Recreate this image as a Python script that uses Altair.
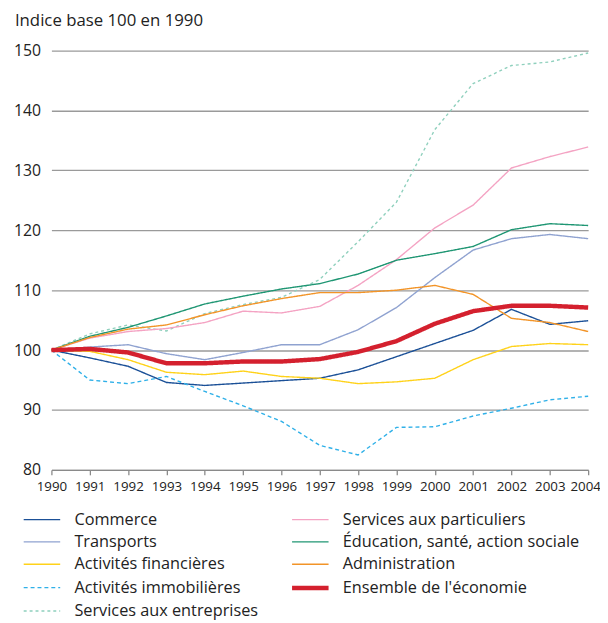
import altair as alt
import pandas as pd

years = list(range(1990, 2005))
commerce = [100, 98.7, 97.3, 94.6, 94.1, 94.5, 94.9, 95.3, 96.7, 98.9, 101.1, 103.3, 106.8, 104.3, 104.9]
transports = [100, 100.5, 100.9, 99.4, 98.4, 99.6, 100.9, 100.9, 103.4, 107.1, 112.1, 116.7, 118.6, 119.3, 118.6]
act_fin = [100, 99.8, 98.4, 96.3, 95.9, 96.5, 95.6, 95.3, 94.4, 94.7, 95.3, 98.4, 100.6, 101.1, 100.9]
act_immo = [100, 95.0, 94.4, 95.6, 93.1, 90.7, 88.1, 84.1, 82.5, 87.1, 87.2, 89.0, 90.3, 91.7, 92.3]
serv_ent = [100, 102.7, 104.2, 103.2, 106.1, 107.6, 108.8, 111.8, 118.1, 124.7, 136.8, 144.5, 147.5, 148.1, 149.6]
serv_part = [100, 102.0, 103.1, 103.6, 104.6, 106.5, 106.2, 107.3, 110.8, 115.1, 120.4, 124.2, 130.4, 132.3, 133.9]
education = [100, 102.3, 103.8, 105.7, 107.7, 109.0, 110.2, 111.1, 112.7, 115.0, 116.1, 117.3, 120.1, 121.1, 120.8]
administration = [100, 102.1, 103.5, 104.2, 105.9, 107.4, 108.6, 109.6, 109.6, 110.0, 110.8, 109.3, 105.3, 104.6, 103.1]
ensemble = [100, 100.2, 99.6, 97.8, 97.8, 98.1, 98.1, 98.5, 99.7, 101.5, 104.4, 106.5, 107.4, 107.4, 107.1]

series = {
    "Commerce": commerce,
    "Transports": transports,
    "Activités financières": act_fin,
    "Activités immobilières": act_immo,
    "Services aux entreprises": serv_ent,
    "Services aux particuliers": serv_part,
    "Éducation, santé, action sociale": education,
    "Administration": administration,
    "Ensemble de l'économie": ensemble,
}
order = list(series.keys())

colors = {
    "Commerce": "#1b5097",
    "Transports": "#8fa2d0",
    "Activités financières": "#ffd21a",
    "Activités immobilières": "#2fb0e8",
    "Services aux entreprises": "#8fd0bd",
    "Services aux particuliers": "#f4a3c3",
    "Éducation, santé, action sociale": "#1f9673",
    "Administration": "#f29428",
    "Ensemble de l'économie": "#d4202e",
}
dashes = {k: [1, 0] for k in series}
dashes["Activités immobilières"] = [4, 3]
dashes["Services aux entreprises"] = [3, 3]
widths = {k: 1.4 for k in series}
widths["Ensemble de l'économie"] = 4.5

rows = []
for name, vals in series.items():
    for y, v in zip(years, vals):
        rows.append({"annee": y, "valeur": v, "serie": name})
df = pd.DataFrame(rows)

FONT = "Open Sans"

color = alt.Color(
    "serie:O",
    scale=alt.Scale(type="ordinal", domain=order, range=[colors[k] for k in order]),
    legend=alt.Legend(
        title=None, orient="none", legendX=-18.1, legendY=467, columns=2,
        columnPadding=25, rowPadding=5.7, symbolType="M-3,0H3", symbolSize=152,
        labelFont=FONT, labelFontSize=16.5, labelColor="#222", labelOffset=24.4,
        labelLimit=400,
    ),
)
dash = alt.StrokeDash("serie:O", scale=alt.Scale(type="ordinal", domain=order, range=[dashes[k] for k in order]))
width = alt.StrokeWidth("serie:O", scale=alt.Scale(type="ordinal", domain=order, range=[widths[k] for k in order]))

x = alt.X(
    "annee:Q",
    scale=alt.Scale(domain=[1990, 2004], nice=False, zero=False),
    axis=alt.Axis(
        title=None, values=years, format="d", grid=False, labelFlush=False,
        labelOverlap=False, labelFont=FONT, labelFontSize=13.5, labelColor="#222",
        domainColor="#8a8a8a", domainWidth=1.3, tickColor="#8a8a8a", tickWidth=1.3,
        tickSize=5, labelPadding=5,
        labelOffset={"condition": {"test": "datum.value == 2004", "value": -3}, "value": 0},
    ),
)
y = alt.Y(
    "valeur:Q",
    scale=alt.Scale(domain=[80, 150], nice=False, zero=False),
    axis=alt.Axis(
        title=None, values=list(range(80, 151, 10)), domain=False, ticks=False,
        gridColor="#9a9a9a", gridWidth=1.3, labelFont=FONT, labelFontSize=16,
        labelColor="#222", labelPadding=11,
    ),
)

base = alt.Chart(df)
others = base.transform_filter("datum.serie != \"Ensemble de l'économie\"").mark_line().encode(
    x=x, y=y, color=color, strokeDash=dash, strokeWidth=width, detail="serie:N"
)
total = base.transform_filter("datum.serie == \"Ensemble de l'économie\"").mark_line().encode(
    x=x, y=y, color=color, strokeDash=dash, strokeWidth=width
)

chart = alt.layer(others, total).properties(
    width=544, height=425,
    title=alt.TitleParams(
        "Indice base 100 en 1990", anchor="start", frame="group", dx=-37, offset=13,
        font=FONT, fontSize=17, fontWeight="normal", color="#222",
    ),
    autosize=alt.AutoSizeParams(type="none"),
    padding={"left": 44, "top": 39, "right": 12, "bottom": 150},
).configure_view(stroke=None)

chart.save("out.html", embed_options={"renderer": "svg", "actions": False})
